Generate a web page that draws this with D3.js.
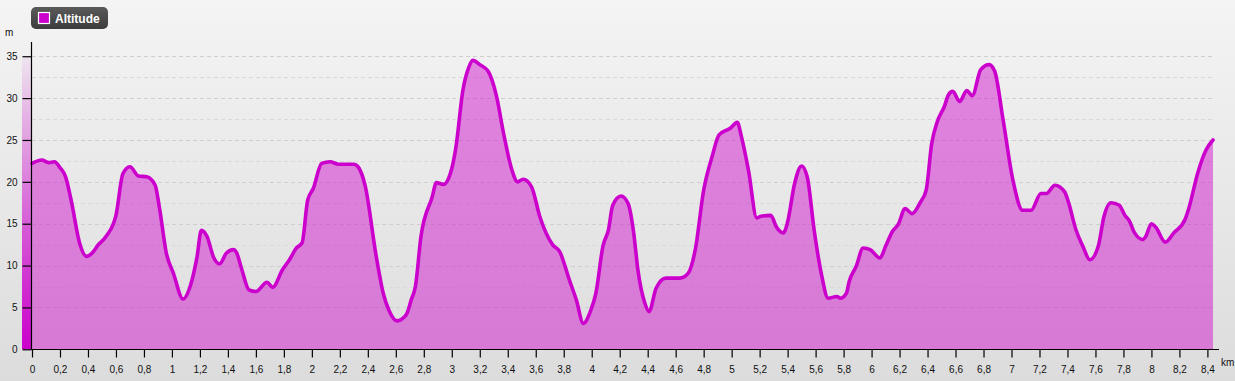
<!DOCTYPE html>
<html><head><meta charset="utf-8">
<script src="https://cdn.jsdelivr.net/npm/d3@7"></script>
<style>html,body{margin:0;padding:0;overflow:hidden;}svg{display:block;}</style>
</head><body><div id="chart"></div>
<script>
const seriesName = "Altitude";
const distanceKm = [0.00,0.07,0.12,0.16,0.20,0.24,0.28,0.34,0.39,0.43,0.47,0.53,0.60,0.65,0.70,0.76,0.82,0.88,0.91,0.96,1.01,1.08,1.13,1.18,1.21,1.25,1.30,1.34,1.39,1.44,1.46,1.50,1.55,1.60,1.68,1.72,1.79,1.84,1.89,1.93,1.97,2.01,2.07,2.13,2.19,2.30,2.33,2.38,2.46,2.51,2.55,2.61,2.65,2.68,2.71,2.74,2.78,2.86,2.89,2.94,3.00,3.03,3.08,3.12,3.15,3.20,3.26,3.32,3.37,3.43,3.47,3.51,3.57,3.63,3.72,3.77,3.84,3.89,3.94,3.99,4.03,4.08,4.12,4.15,4.21,4.26,4.30,4.33,4.38,4.41,4.46,4.53,4.63,4.69,4.74,4.80,4.86,4.91,4.99,5.04,5.07,5.12,5.18,5.21,5.28,5.32,5.37,5.40,5.45,5.50,5.54,5.59,5.64,5.69,5.75,5.78,5.82,5.84,5.89,5.94,5.99,6.06,6.10,6.15,6.19,6.24,6.29,6.35,6.39,6.43,6.47,6.52,6.55,6.58,6.63,6.68,6.72,6.78,6.84,6.88,6.94,7.01,7.08,7.14,7.21,7.25,7.31,7.38,7.41,7.46,7.51,7.56,7.62,7.66,7.71,7.77,7.81,7.84,7.88,7.94,7.96,8.00,8.03,8.10,8.16,8.24,8.27,8.33,8.39,8.44];
const altitudeM = [22.2,22.6,22.3,22.4,21.7,20.6,17.8,12.7,11.1,11.5,12.4,13.5,16.0,21.0,21.8,20.7,20.6,19.6,17.0,11.5,9.1,6.0,7.5,11.1,14.2,13.5,10.9,10.2,11.5,11.9,11.6,9.5,7.1,6.9,8.0,7.4,9.5,10.7,12.1,12.7,17.8,19.2,22.2,22.4,22.1,22.1,21.8,19.6,11.1,6.7,4.7,3.4,3.7,4.3,5.9,7.5,13.5,18.2,19.9,19.7,21.6,24.2,31.0,33.6,34.5,34.0,33.2,30.2,25.8,21.4,20.0,20.3,19.4,15.8,12.5,11.7,8.3,5.9,3.1,4.5,6.7,12.3,14.3,17.2,18.3,17.4,13.9,9.5,5.5,4.5,7.3,8.5,8.5,9.1,11.9,19.0,23.0,25.6,26.4,27.1,25.4,21.4,15.7,15.9,16.0,14.6,13.9,15.2,19.8,21.9,20.6,14.2,9.1,6.1,6.3,6.1,6.7,8.1,9.9,12.1,11.9,10.9,12.3,14.1,14.9,16.8,16.2,17.6,19.0,24.6,27.2,29.0,30.4,30.8,29.6,30.9,30.3,33.4,34.0,33.2,27.4,20.2,16.6,16.6,18.6,18.6,19.6,18.8,17.4,14.3,12.3,10.7,12.3,15.8,17.5,17.2,16.0,15.4,13.9,13.1,13.5,15.0,14.6,12.8,13.9,15.5,17.0,21.0,23.8,25.0];
const xTicks = [0,0.2,0.4,0.6,0.8,1,1.2,1.4,1.6,1.8,2,2.2,2.4,2.6,2.8,3,3.2,3.4,3.6,3.8,4,4.2,4.4,4.6,4.8,5,5.2,5.4,5.6,5.8,6,6.2,6.4,6.6,6.8,7,7.2,7.4,7.6,7.8,8,8.2,8.4];
const yTicks = [0,5,10,15,20,25,30,35];
const yMinorGrid = [2.5,7.5,12.5,17.5,22.5,27.5,32.5];
const xUnit = "km", yUnit = "m";

const W = 1235, H = 381;
const data = distanceKm.map((d,i)=>({x:d, y:altitudeM[i]}));
const svg = d3.select("#chart").append("svg").attr("width",W).attr("height",H)
  .style("font-family","'Liberation Sans', Arial, sans-serif");
const defs = svg.append("defs");
const bg = defs.append("linearGradient").attr("id","bg").attr("x1",0).attr("y1",0).attr("x2",0).attr("y2",1);
bg.append("stop").attr("offset","0%").attr("stop-color","#f4f4f4");
bg.append("stop").attr("offset","100%").attr("stop-color","#dcdcdc");
const lg = defs.append("linearGradient").attr("id","lg").attr("x1",0).attr("y1",0).attr("x2",0).attr("y2",1);
lg.append("stop").attr("offset","0%").attr("stop-color","#5a5a5a");
lg.append("stop").attr("offset","100%").attr("stop-color","#3c3c3c");
const sc = defs.append("linearGradient").attr("id","sc").attr("x1",0).attr("y1",0).attr("x2",0).attr("y2",1);
sc.append("stop").attr("offset","0%").attr("stop-color","#cc00cc").attr("stop-opacity",0.05);
sc.append("stop").attr("offset","100%").attr("stop-color","#cc00cc").attr("stop-opacity",1);

svg.append("rect").attr("width",W).attr("height",H).attr("fill","url(#bg)");

const x = d3.scaleLinear().domain([0, 8.44]).range([32, 1213]);
const y = d3.scaleLinear().domain([0, 36.7]).range([349.3, 42]);

// color scale strip left of axis
svg.append("rect").attr("x",22).attr("width",9.5).attr("y",y(35)).attr("height",y(0)-y(35)).attr("fill","url(#sc)");

// grid
svg.append("g").selectAll("line").data(yMinorGrid).join("line")
  .attr("x1",x(0)).attr("x2",x(8.44)).attr("y1",d=>Math.round(y(d))+0.5).attr("y2",d=>Math.round(y(d))+0.5)
  .attr("stroke","#d9d9d9").attr("stroke-dasharray","4,3").attr("stroke-width",1);
svg.append("g").selectAll("line").data(yTicks.filter(d=>d>0)).join("line")
  .attr("x1",x(0)).attr("x2",x(8.44)).attr("y1",d=>Math.round(y(d))+0.5).attr("y2",d=>Math.round(y(d))+0.5)
  .attr("stroke","#cfcfcf").attr("stroke-dasharray","4,3").attr("stroke-width",1);

// area + line
const area = d3.area().x(d=>x(d.x)).y0(y(0)).y1(d=>y(d.y)).curve(d3.curveMonotoneX);
const line = d3.line().x(d=>x(d.x)).y(d=>y(d.y)).curve(d3.curveMonotoneX);
svg.append("path").datum(data).attr("d",area).attr("fill","#cc00cc").attr("fill-opacity",0.45);
svg.append("path").datum(data).attr("d",line).attr("fill","none").attr("stroke","#cc00cc").attr("stroke-width",3.6).attr("stroke-linejoin","round").attr("stroke-linecap","round");

// axes
const fmt = d => String(d).replace(".", ",");
const yAx = svg.append("g").attr("transform","translate(31.5,0)")
  .call(d3.axisLeft(y).tickValues(yTicks).tickSize(9).tickPadding(5).tickFormat(fmt));
yAx.select(".domain").remove();
svg.append("line").attr("x1",31.5).attr("x2",31.5).attr("y1",42).attr("y2",350).attr("stroke","#000").attr("stroke-width",1.2);
const xAx = svg.append("g").attr("transform","translate(0,349.5)")
  .call(d3.axisBottom(x).tickValues(xTicks).tickSize(8).tickPadding(8).tickFormat(fmt));
xAx.select(".domain").remove();
svg.append("line").attr("x1",31).attr("x2",1219).attr("y1",349.5).attr("y2",349.5).attr("stroke","#000").attr("stroke-width",1.2);
svg.selectAll(".tick text").attr("font-size",10).attr("fill","#111").style("font-family","'Liberation Sans', Arial, sans-serif");
svg.selectAll(".tick line").attr("stroke","#000").attr("stroke-width",1.2);

svg.append("text").attr("x",5).attr("y",36).attr("font-size",10).attr("fill","#111").text(yUnit);
svg.append("text").attr("x",1221).attr("y",366).attr("font-size",10).attr("fill","#111").text(xUnit);

// legend
const leg = svg.append("g");
leg.append("rect").attr("x",31).attr("y",7).attr("width",77).attr("height",22).attr("rx",5).attr("fill","url(#lg)");
leg.append("rect").attr("x",38.5).attr("y",12.5).attr("width",11).attr("height",11).attr("fill","#cc00cc").attr("stroke","#fff").attr("stroke-width",1.2);
leg.append("text").attr("x",55).attr("y",23).attr("font-size",12).attr("font-weight","bold").attr("fill","#fff").text(seriesName);
</script></body></html>
